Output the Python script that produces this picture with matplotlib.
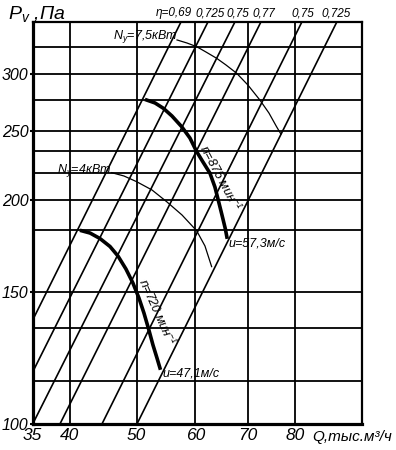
import numpy as np
import matplotlib
matplotlib.use("Agg")
import matplotlib.pyplot as plt

# axis ticks / grid values
q_ticks = [35, 40, 50, 60, 70, 80]
p_ticks = [100, 150, 200, 250, 300]
p_grid = [114, 134, 182, 218, 234, 276, 327]

# efficiency lines (start, end)
eta_labels = ["η=0,69", "0,725", "0,75", "0,77", "0,75", "0,725"]
eta_q = [(35, 57.45), (35, 62.32), (35, 67.47), (38.63, 72.71), (44.64, 81.56), (50.06, 89.72)]
eta_p = [(137.4, 355), (117.1, 355), (100, 355), (100, 355), (100, 355), (100, 355)]
eta_label_q = [56.2, 62.7, 68.0, 73.3, 81.8, 89.5]

# fan curves
n720_q = [41.67, 42.88, 44.34, 45.85, 47.07, 48.31, 49.41, 50.38, 51.19, 52.00, 52.67, 53.34, 53.84]
n720_p = [181.7, 180.4, 177.3, 172.9, 167.8, 161.1, 154.2, 147.1, 140.4, 133.2, 127.2, 122.2, 118.5]
n875_q = [51.63, 53.01, 54.40, 55.88, 57.58, 59.04, 60.25, 61.40, 62.70, 63.63, 64.25, 64.77, 65.20, 65.62, 65.91]
n875_p = [275.8, 273.2, 268.6, 262.0, 253.1, 244.1, 233.7, 226.1, 218.1, 208.7, 200.3, 193.5, 188.0, 182.7, 178.1]

# power curves
n75_q = [56.76, 58.52, 60.25, 61.95, 63.95, 65.72, 67.81, 70.05, 72.50, 74.39, 76.01, 76.93]
n75_p = [334.9, 331.6, 327.7, 322.1, 315.6, 308.9, 300.7, 289.5, 275.8, 264.5, 253.1, 247.3]
n4_q = [46.10, 48.00, 50.01, 52.50, 54.98, 57.63, 60.25, 61.77, 63.01]
n4_p = [218.5, 216.2, 212.3, 206.8, 199.2, 191.0, 181.7, 173.2, 162.3]

plt.rcParams["font.family"] = ["Liberation Sans", "DejaVu Sans"]
plt.rcParams["font.style"] = "italic"
plt.rcParams["mathtext.fontset"] = "custom"
plt.rcParams["mathtext.rm"] = "Liberation Sans:italic"
plt.rcParams["mathtext.it"] = "Liberation Sans:italic"

fig = plt.figure(figsize=(3.96, 4.5), dpi=100)
ax = fig.add_axes([32.7 / 396, 26 / 450, 329 / 396, 402 / 450])

# scanned log-log grid, slightly stretched
def fq(q):
    return np.log10(np.clip(np.asarray(q, float) + 28, 1e-6, None))

def iq(v):
    return 10 ** np.asarray(v, float) - 28

def fp(p):
    return np.log10(np.clip(np.asarray(p, float) - 10, 1e-6, None))

def ip(v):
    return 10 ** np.asarray(v, float) + 10

ax.set_xscale("function", functions=(fq, iq))
ax.set_yscale("function", functions=(fp, ip))
ax.set_xlim(35, 95.9)
ax.set_ylim(100, 355)

ax.set_xticks(q_ticks)
ax.set_xticklabels([str(v) for v in q_ticks])
ax.set_xticks([], minor=True)
ax.set_yticks(p_ticks)
ax.set_yticklabels([str(v) for v in p_ticks])
ax.set_yticks(p_grid, minor=True)
ax.tick_params(axis="x", which="major", length=0, pad=3, labelsize=12.5)
ax.tick_params(axis="y", which="major", length=2.5, width=1.5, pad=0.5, labelsize=11.5)
ax.tick_params(axis="y", which="minor", length=0)
ax.grid(True, which="both", color="black", lw=1.3)
ax.set_axisbelow(True)

for side in ["left", "bottom"]:
    ax.spines[side].set_linewidth(2.3)
for side in ["top", "right"]:
    ax.spines[side].set_linewidth(1.6)

for q, p in zip(eta_q, eta_p):
    ax.plot(q, p, color="black", lw=1.2)

ax.plot(n720_q, n720_p, color="black", lw=2.6)
ax.plot(n875_q, n875_p, color="black", lw=2.6)
ax.plot(n75_q, n75_p, color="black", lw=0.9)
ax.plot(n4_q, n4_p, color="black", lw=0.9)

tr = ax.get_xaxis_transform()
for q, lab in zip(eta_label_q, eta_labels):
    ax.text(q, 1.022, lab, transform=tr, ha="center", va="center", fontsize=8.5)

ax.text(56.9, 339, "N$_y$=7,5кВт", ha="right", va="center", fontsize=9)
ax.text(46.0, 219.7, "N$_y$=4кВт", ha="right", va="center", fontsize=9)
ax.text(66.3, 174.8, "u=57,3м/с", ha="left", va="center", fontsize=9)
ax.text(54.2, 116.7, "u=47,1м/с", ha="left", va="center", fontsize=9)
ax.text(64.6, 214.8, "n=875 мин$^{-1}$", ha="center", va="center", fontsize=9,
        rotation=-62, rotation_mode="anchor")
ax.text(53.3, 140.9, "n=720 мин$^{-1}$", ha="center", va="center", fontsize=9,
        rotation=-66, rotation_mode="anchor")

fig.text(8 / 396, 1 - 14 / 450, "$P_v$ ,Па", ha="left", va="center", fontsize=14)
fig.text(312 / 396, 1 - 437 / 450, "Q,тыс.м³/ч", ha="left", va="center", fontsize=11)

fig.savefig("out.png", dpi=100)
